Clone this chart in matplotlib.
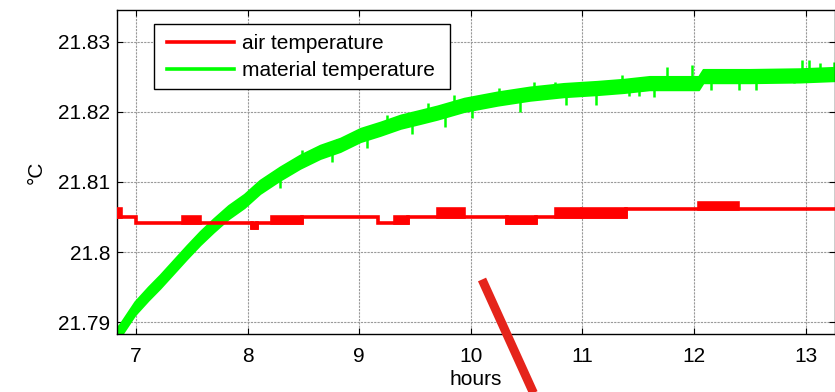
import numpy as np
import matplotlib
matplotlib.use("Agg")
import matplotlib.pyplot as plt
from matplotlib.patches import Rectangle

plt.rcParams['font.family'] = ['Liberation Sans', 'DejaVu Sans']

# ---- air temperature: quantised levels and segments (start h, end h, low, high)
AIR_L0 = 21.8034
AIR_L1 = 21.8041
AIR_L2 = 21.8050
AIR_L3 = 21.8061
AIR_L4 = 21.8070

air_start = [6.83, 6.87, 7.00, 7.42, 7.57, 8.04, 8.08, 8.22, 8.49, 9.17, 9.32,
             9.44, 9.71, 9.94, 10.32, 10.58, 10.76, 10.98, 11.00, 11.39, 12.04, 12.39]
air_end = [6.87, 7.00, 7.42, 7.57, 8.04, 8.08, 8.22, 8.49, 9.17, 9.32, 9.44,
           9.71, 9.94, 10.32, 10.58, 10.76, 10.98, 11.00, 11.39, 12.04, 12.39, 13.27]
air_low = [AIR_L2, AIR_L2, AIR_L1, AIR_L1, AIR_L1, AIR_L0, AIR_L1, AIR_L1, AIR_L2, AIR_L1, AIR_L1,
           AIR_L2, AIR_L2, AIR_L2, AIR_L1, AIR_L2, AIR_L2, AIR_L2, AIR_L2, AIR_L3, AIR_L3, AIR_L3]
air_high = [AIR_L3, AIR_L2, AIR_L1, AIR_L2, AIR_L1, AIR_L1, AIR_L1, AIR_L2, AIR_L2, AIR_L1, AIR_L2,
            AIR_L2, AIR_L3, AIR_L2, AIR_L2, AIR_L2, AIR_L3, AIR_L2, AIR_L3, AIR_L3, AIR_L4, AIR_L3]

# ---- material temperature: band centre and noise spikes
mat_hours = [6.83, 6.86, 6.99, 7.11, 7.215, 7.335, 7.455, 7.574, 7.693, 7.828, 7.97,
             8.11, 8.29, 8.47, 8.65, 8.83, 9.01, 9.19, 9.37, 9.55, 9.70, 9.94,
             10.24, 10.53, 10.83, 11.13, 11.37, 11.6, 12.04, 12.08, 12.5, 12.95, 13.27]
mat_center = [21.7883, 21.7889, 21.7920, 21.7941, 21.7958, 21.7979, 21.8000, 21.8020,
              21.8038, 21.8057, 21.8073, 21.8093, 21.8112, 21.8129, 21.8143, 21.8153,
              21.8167, 21.8176, 21.8186, 21.8193, 21.8199, 21.8210, 21.8219, 21.8226,
              21.8231, 21.8234, 21.8237, 21.8241, 21.8241, 21.8251, 21.8251, 21.8252, 21.8254]
MAT_HALF_BAND = 0.00095

spike_hours = [8.486, 8.80, 9.25, 9.62, 9.846, 10.25, 10.563, 10.758, 11.356, 11.76,
               11.98, 12.97, 13.03, 13.13, 13.25,
               8.29, 8.755, 9.07, 9.47, 9.77, 10.01, 10.44, 10.85, 11.117, 11.415,
               11.505, 11.64, 12.15, 12.40, 12.55, 12.895]
spike_values = [21.8146, 21.8162, 21.8195, 21.8212, 21.8224, 21.8234, 21.8243, 21.8243,
                21.8252, 21.8264, 21.8267, 21.8274, 21.8274, 21.8270, 21.8271,
                21.8091, 21.8129, 21.8148, 21.8169, 21.8179, 21.8191, 21.8200, 21.8210,
                21.8210, 21.8222, 21.8222, 21.8221, 21.8231, 21.8231, 21.8231, 21.8241]

# ---- axis setup
x_ticks = [7, 8, 9, 10, 11, 12, 13]
y_ticks = [21.79, 21.80, 21.81, 21.82, 21.83]
y_tick_labels = ['21.79', '21.8', '21.81', '21.82', '21.83']
x_range = (6.83, 13.262)
y_range = (21.78833, 21.83452)

# pointer drawn over the plot (hours, °C)
pointer_start = (10.10, 21.7961)
pointer_end = (10.59, 21.7789)

RED = '#FF0000'
GREEN = '#00FF00'
FS = 15
LW = 2.6

fig = plt.figure(figsize=(8.35, 3.92), dpi=100)
ax = fig.add_axes([117 / 835, 1 - 334 / 392, 718 / 835, 324 / 392])

# air temperature as a stepped line with filled flicker blocks
ax_x, ax_y = [], []
for s, e, lo in zip(air_start, air_end, air_low):
    ax_x += [s, e]
    ax_y += [lo, lo]
air_line, = ax.plot(ax_x, ax_y, color=RED, lw=LW, solid_joinstyle='miter',
                    label='air temperature', zorder=3)
for s, e, lo, hi in zip(air_start, air_end, air_low, air_high):
    if hi > lo:
        ax.fill_between([s, e], [lo, lo], [hi, hi], facecolor=RED, edgecolor=RED,
                        lw=LW, joinstyle='miter', zorder=3)

# material temperature as a noisy band
mh = np.array(mat_hours)
mc = np.array(mat_center)
ax.fill_between(mh, mc - MAT_HALF_BAND, mc + MAT_HALF_BAND, facecolor=GREEN,
                edgecolor=GREEN, lw=1.4, zorder=2)
mat_line, = ax.plot(mh, mc, color=GREEN, lw=LW, label='material temperature', zorder=2)
spike_base = np.interp(spike_hours, mh, mc)
ax.vlines(spike_hours, spike_base, spike_values, color=GREEN, lw=1.8, zorder=2)

ax.set_xlim(*x_range)
ax.set_ylim(*y_range)
ax.set_xticks(x_ticks)
ax.set_xticklabels([str(t) for t in x_ticks])
ax.set_yticks(y_ticks)
ax.set_yticklabels(y_tick_labels)
ax.tick_params(direction='in', top=True, right=True, length=4, width=0.8,
               labelsize=FS, pad=9, colors='black')
ax.tick_params(axis='y', pad=5)
ax.grid(True, color='0.6', ls=(0, (2, 1)), lw=0.8)
for sp in ax.spines.values():
    sp.set_linewidth(1.0)

ax.set_xlabel('hours', fontsize=FS, labelpad=3)
ax.set_ylabel('°C', fontsize=FS, labelpad=9)

# legend with a plain square box
ax.add_patch(Rectangle((0.0515, 0.7562), 0.4123, 0.2006, transform=ax.transAxes,
                       facecolor='white', edgecolor='black', lw=1.0, zorder=4))
leg = ax.legend(handles=[air_line, mat_line], loc='upper left',
                bbox_to_anchor=(0.0696, 0.925), frameon=False, fontsize=FS,
                borderpad=0, borderaxespad=0, handlelength=3.22,
                handletextpad=0.38, labelspacing=0.39)
leg.set_zorder(5)

# pointer line
ax.plot([pointer_start[0], pointer_end[0]], [pointer_start[1], pointer_end[1]],
        color='#E5241B', lw=6.4, solid_capstyle='butt', clip_on=False, zorder=6)

fig.savefig('out.png', dpi=100)
